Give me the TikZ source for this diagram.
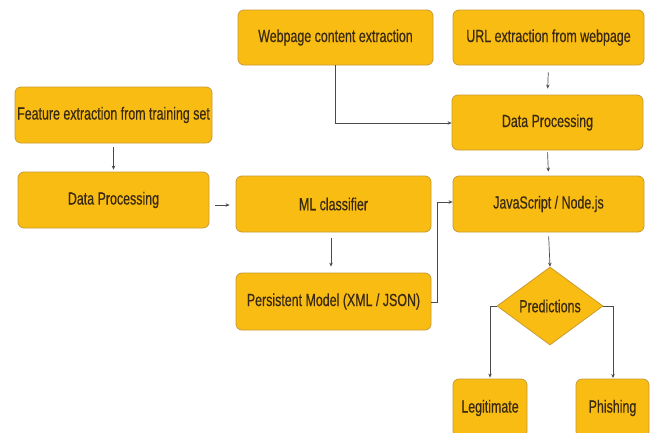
\documentclass[tikz,border=0pt]{standalone}
\usepackage{fontspec}
\setmainfont{Liberation Sans}[FakeStretch=0.71,FakeBold=0.4]
\usetikzlibrary{arrows.meta,shapes.geometric}
\definecolor{boxfill}{HTML}{F9BC12}
\definecolor{boxline}{HTML}{C99B30}
\definecolor{txt}{HTML}{3A2A12}
\definecolor{conn}{HTML}{4A4A4A}
\tikzset{
  box/.style={draw=boxline, line width=0.8pt, fill=boxfill, rounded corners=6pt,
    text=txt, font=\fontsize{17.5}{19}\selectfont, inner sep=0pt},
  dia/.style={diamond, draw=boxline, line width=0.8pt, fill=boxfill, aspect=1.36,
    text=txt, font=\fontsize{17.5}{19}\selectfont, inner sep=0pt},
  arr/.style={draw=conn, line width=0.7pt, -{Stealth[length=4pt,width=3.5pt]}},
}
\begin{document}
\begin{tikzpicture}[x=1pt,y=-1pt]
\useasboundingbox[fill=white] (0,0) rectangle (654,432);
\node[box, minimum width=197pt, minimum height=56pt] (feat) at (113.5,115) {Feature extraction from training set};
\node[box, minimum width=191pt, minimum height=56pt] (dp1) at (113.5,200) {Data Processing};
\node[box, minimum width=195pt, minimum height=55pt] (web) at (335.5,37.5) {Webpage content extraction};
\node[box, minimum width=191pt, minimum height=55pt] (url) at (548.5,37.5) {URL extraction from webpage};
\node[box, minimum width=191pt, minimum height=55pt] (dp2) at (547.5,122.5) {Data Processing};
\node[box, minimum width=195pt, minimum height=56pt] (ml) at (333.5,204) {ML classifier};
\node[box, minimum width=195pt, minimum height=57pt] (pm) at (333.5,301.5) {Persistent Model (XML / JSON)};
\node[box, minimum width=191pt, minimum height=56pt] (js) at (548.5,204) {JavaScript / Node.js};
\node[dia, minimum width=106pt, minimum height=78pt] (pred) at (550,306) {Predictions};
\node[box, minimum width=74pt, minimum height=58pt] (leg) at (490,408) {Legitimate};
\node[box, minimum width=73pt, minimum height=58pt] (phish) at (612.5,408) {Phishing};

\draw[arr, shorten <=4pt, shorten >=2pt] (feat.south) -- (dp1.north);
\draw[arr, shorten <=6pt, shorten >=6pt] (dp1.east |- 0,205) -- (ml.west |- 0,205);
\draw[arr, shorten <=7pt, shorten >=6pt] (url.south) -- (dp2.north);
\draw[arr, shorten <=2pt, shorten >=4pt] (dp2.south) -- (js.north);
\draw[arr] (web.south) |- (dp2.west |- 0,123);
\draw[arr, shorten <=6pt, shorten >=6pt] (ml.south -| 331,0) -- (pm.north -| 331,0);
\draw[arr] (pm.east |- 0,302) -- (437,302) |- (js.west |- 0,202);
\draw[arr, shorten <=4pt] (js.south) -- (pred.north);
\draw[arr, shorten >=1pt] (pred.west) -- (490,306) -- (leg.north);
\draw[arr, shorten >=1pt] (pred.east) -- (613,306) -- (613,379);
\end{tikzpicture}
\end{document}
